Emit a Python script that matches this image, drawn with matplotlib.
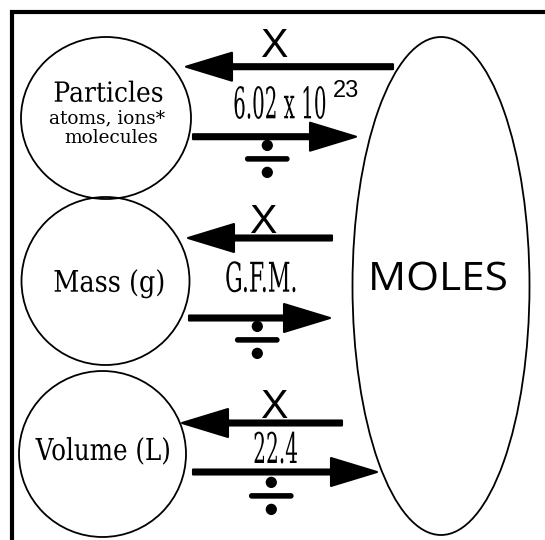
import matplotlib
matplotlib.use("Agg")
import matplotlib.pyplot as plt
from matplotlib.patches import Ellipse, FancyArrow
from matplotlib.patheffects import AbstractPathEffect
from matplotlib.transforms import Affine2D

# the three quantities, and the factor that links each one to moles
quantities = ["Particles", "Mass (g)", "Volume (L)"]
particle_kinds = ["atoms, ions*", "molecules"]
factors = ["6.02 x 10", "G.F.M.", "22.4"]
factor_exponent = "23"
multiply_sign = "X"
divide_sign = r"$\div$"
center_label = "MOLES"

# layout in pixels (y measured from the top)
circle_xy = [(106, 118), (105.5, 281), (102.5, 454)]
circle_wh = [(170, 162), (168, 168), (167, 166)]
quantity_xy = [(108.5, 101.7), (109, 291.7), (103.5, 460)]
quantity_size = [18, 18.4, 17.7]
quantity_stretch = [1.11, 1.163, 1.227]
left_arrows = [(393, 186, 66.7), (332, 188, 238), (342, 182, 423)]
right_arrows = [(193, 356, 136.7), (189, 330, 318), (193, 377, 472)]
times_xy = [(274, 56.7), (263, 233), (274, 418)]
factor_xy = [(280, 118.3), (261.5, 291.7), (275.5, 463)]
factor_size = [14.3, 15.9, 14.5]
factor_stretch = [2.185, 1.858, 2.1]
divide_xy = [(267, 175), (257, 356), (271, 512)]


class Stretch(AbstractPathEffect):
    """Scale the glyphs of a text about its anchor (condensed type),
    optionally with an outline stroke to make them heavier."""

    def __init__(self, ax, xy, sx=1.0, sy=1.0, lw=0):
        super().__init__()
        self.ax, self.xy, self.sx, self.sy, self.lw = ax, xy, sx, sy, lw

    def draw_path(self, renderer, gc, tpath, affine, rgbFace=None):
        x0, y0 = self.ax.transData.transform(self.xy)
        scale = Affine2D().translate(-x0, -y0).scale(self.sx, self.sy).translate(x0, y0)
        if self.lw:
            gc0 = renderer.new_gc()
            gc0.copy_properties(gc)
            gc0.set_linewidth(self.lw)
            gc0.set_foreground("black")
            renderer.draw_path(gc0, tpath, affine + scale, rgbFace)
            gc0.restore()
        else:
            renderer.draw_path(gc, tpath, affine + scale, rgbFace)


def label(ax, x, y, s, size, family, sx=1.0, sy=1.0, lw=0, **kw):
    t = ax.text(x, y, s, fontsize=size, family=family, ha="center",
                va="baseline", color="black", **kw)
    if sx != 1.0 or sy != 1.0 or lw:
        t.set_path_effects([Stretch(ax, (x, y), sx, sy, lw)])
    return t


def arrow(ax, x0, x1, y):
    ax.add_patch(FancyArrow(x0, y, x1 - x0, 0, width=5, head_width=28,
                            head_length=46, length_includes_head=True,
                            color="black", lw=1.5, joinstyle="round"))


fig = plt.figure(figsize=(5.45, 5.40), dpi=100)
ax = fig.add_axes([0, 0, 1, 1])
ax.set_xlim(0, 545)
ax.set_ylim(540, 0)
ax.axis("off")

# frame: left and top edges only
ax.plot([12, 12, 545], [540, 11.5, 11.5], color="black", lw=3,
        solid_joinstyle="miter")

# big moles ellipse
ax.add_patch(Ellipse((441, 286), 177, 498, fill=False, lw=1.3, ec="black"))
label(ax, 438, 290, center_label, 30.5, "Open Sans", sy=0.926)

for i in range(3):
    ax.add_patch(Ellipse(circle_xy[i], *circle_wh[i], fill=False, lw=1.3, ec="black"))
    label(ax, *quantity_xy[i], quantities[i], quantity_size[i], "DejaVu Serif",
          sy=quantity_stretch[i])
    arrow(ax, *left_arrows[i])
    arrow(ax, *right_arrows[i])
    label(ax, *times_xy[i], multiply_sign, 29.6, "Liberation Sans")
    label(ax, *factor_xy[i], factors[i], factor_size[i], "DejaVu Serif",
          sy=factor_stretch[i])
    label(ax, *divide_xy[i], divide_sign, 30, "DejaVu Sans", sx=1.5, sy=1.5,
          lw=2.2, math_fontfamily="cm")

# particle sub-labels and the exponent
label(ax, 107.5, 123.3, particle_kinds[0], 13.3, "DejaVu Serif")
label(ax, 111.5, 143.3, particle_kinds[1], 13.3, "DejaVu Serif")
label(ax, 346, 97, factor_exponent, 17, "Liberation Sans")

fig.savefig("out.png", dpi=100)
